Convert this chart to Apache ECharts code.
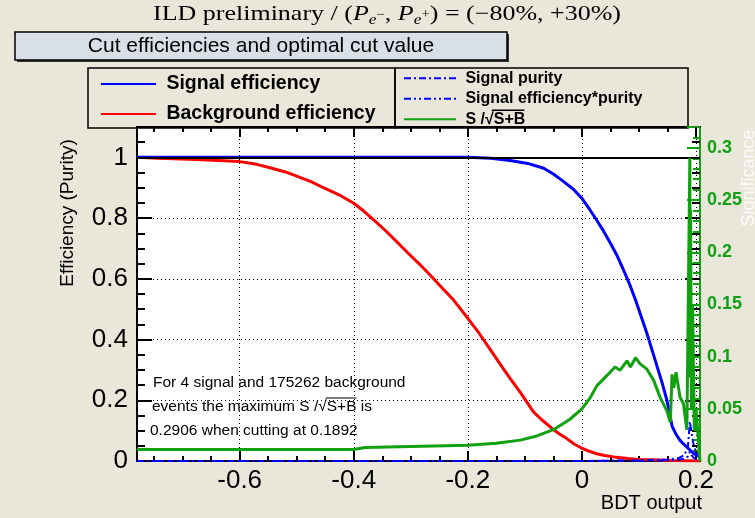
<!DOCTYPE html>
<html><head><meta charset="utf-8">
<script src="https://cdn.jsdelivr.net/npm/echarts@6/dist/echarts.min.js"></script>
<style>html,body{margin:0;padding:0;background:#e9e6da;}#c{width:755px;height:518px;}</style>
</head><body><div id="c"></div>
<script>
// ---- axis ranges / ticks ----
const X_MIN = -0.78, X_MAX = 0.207;
const xTicks = [-0.6, -0.4, -0.2, 0, 0.2];
const xMinorTicks = [-0.75,-0.7,-0.65,-0.6,-0.55,-0.5,-0.45,-0.4,-0.35,-0.3,-0.25,-0.2,-0.15,-0.1,-0.05,0,0.05,0.1,0.15,0.2];
const effMax = 1.1;
const sigMax = 0.32;

// ---- background efficiency (red) ----
const bkgX   = [-0.78,-0.743,-0.676,-0.6,-0.57,-0.547,-0.52,-0.5,-0.475,-0.453,-0.425,-0.4,-0.383,-0.366,-0.345,-0.325,-0.305,-0.284,-0.265,-0.245,-0.225,-0.2,-0.18,-0.16,-0.14,-0.125,-0.108,-0.095,-0.085,-0.07,-0.053,-0.04,-0.026,-0.013,0,0.013,0.026,0.04,0.06,0.08,0.1,0.12,0.16,0.207];
const bkgEff = [1.0,0.997,0.993,0.986,0.977,0.966,0.952,0.938,0.92,0.9,0.876,0.849,0.824,0.796,0.76,0.723,0.685,0.647,0.61,0.57,0.53,0.47,0.42,0.365,0.31,0.27,0.226,0.19,0.162,0.135,0.108,0.09,0.073,0.055,0.042,0.032,0.024,0.018,0.012,0.008,0.005,0.004,0.002,0.0];

// ---- signal efficiency (blue) ----
const sigX   = [-0.78,-0.2,-0.16,-0.126,-0.095,-0.067,-0.05,-0.032,-0.015,0,0.013,0.026,0.038,0.05,0.062,0.073,0.084,0.094,0.104,0.114,0.123,0.132,0.141,0.149,0.154,0.158,0.165,0.172,0.178,0.184,0.19,0.196,0.202,0.207];
const sigEff = [1,1,0.997,0.99,0.98,0.964,0.945,0.92,0.895,0.865,0.83,0.793,0.757,0.717,0.675,0.629,0.58,0.53,0.475,0.42,0.365,0.31,0.255,0.2,0.155,0.115,0.088,0.068,0.056,0.046,0.035,0.025,0.018,0.013];

// ---- significance S/sqrt(S+B) (green, right axis) ----
const signifX = [-0.78,-0.4,-0.38,-0.3,-0.2,-0.15,-0.108,-0.079,-0.05,-0.021,0,0.015,0.026,0.044,0.058,0.067,0.079,0.085,0.094,0.102,0.114,0.126,0.137,0.149,0.155,0.158,0.161,0.165,0.172,0.178,0.184,0.1892,0.1898,0.1905,0.192,0.194,0.197,0.2,0.207];
const signif  = [0.011,0.011,0.013,0.014,0.015,0.017,0.020,0.024,0.030,0.040,0.050,0.061,0.072,0.082,0.090,0.087,0.096,0.090,0.099,0.093,0.088,0.077,0.061,0.048,0.037,0.083,0.070,0.085,0.061,0.055,0.030,0.2906,0.08,0.24,0.05,0.15,0.03,0.05,0.0];

// ---- purity curves (blue dash-dot) ----
const purX      = [-0.78,0,0.1,0.15,0.17,0.18,0.186,0.1892,0.195,0.2,0.207];
const purity    = [0,0.0002,0.002,0.005,0.01,0.02,0.05,0.13,0.06,0.03,0.02];
const effPurity = [0,0.0002,0.001,0.002,0.004,0.008,0.015,0.03,0.012,0.006,0.003];

const FONT = 'Liberation Sans, Arial, Helvetica, sans-serif';
const SERIF = 'Liberation Serif, DejaVu Serif, serif';
const GREEN = '#10a010';
const zip = (a, b) => a.map((v, i) => [v, b[i]]);

const cnv = document.createElement('canvas').getContext('2d');
function tw(txt, font) { cnv.font = font; return cnv.measureText(txt).width; }

const chart = echarts.init(document.getElementById('c'), null, {renderer: 'canvas'});

function xAxisDef(pos, major) {
  return {
    type: 'value', min: X_MIN, max: X_MAX, position: pos,
    axisLine: {show: major, onZero: false, lineStyle: {color: '#000', width: 2}},
    axisTick: {show: true, inside: true, length: major ? 10 : 5, customValues: major ? xTicks : xMinorTicks,
               lineStyle: {color: '#000', width: 2}},
    axisLabel: (major && pos === 'bottom') ? {show: true, customValues: xTicks, fontSize: 26, fontFamily: FONT, color: '#000', margin: 7,
               formatter: v => String(Math.round(v * 10) / 10)} : {show: false},
    splitLine: (major && pos === 'bottom') ? {show: true, lineStyle: {color: '#000', type: [1, 3], width: 1}} : {show: false}
  };
}

const option = {
  backgroundColor: '#e9e6da',
  animation: false,
  grid: {left: 137, right: 55, top: 127, bottom: 57, show: true, backgroundColor: '#fff', borderColor: '#000', borderWidth: 1},
  xAxis: [xAxisDef('bottom', true), xAxisDef('bottom', false), xAxisDef('top', true), xAxisDef('top', false)],
  yAxis: [
    {type: 'value', min: 0, max: effMax, interval: 0.2, position: 'left',
     axisLine: {show: true, onZero: false, lineStyle: {color: '#000', width: 2}},
     axisTick: {inside: true, length: 15, lineStyle: {color: '#000', width: 2}},
     minorTick: {show: true, splitNumber: 4, length: 8, lineStyle: {color: '#000', width: 2}},
     axisLabel: {fontSize: 26, fontFamily: FONT, color: '#000', margin: 9, showMaxLabel: false,
                 formatter: v => String(Math.round(v * 10) / 10)},
     splitLine: {show: true, lineStyle: {color: '#000', type: [1, 3], width: 1}}},
    {type: 'value', min: 0, max: effMax, interval: 0.2, position: 'right',
     axisLine: {show: false, onZero: false},
     axisTick: {inside: true, length: 15, lineStyle: {color: '#000', width: 2}},
     minorTick: {show: true, splitNumber: 4, length: 8, lineStyle: {color: '#000', width: 2}},
     axisLabel: {show: false}, splitLine: {show: false}},
    {type: 'value', min: 0, max: sigMax, interval: 0.05, position: 'right',
     axisLine: {show: true, onZero: false, lineStyle: {color: GREEN, width: 2}},
     axisTick: {inside: true, length: 13, lineStyle: {color: GREEN, width: 2}},
     minorTick: {show: true, splitNumber: 5, length: 7, lineStyle: {color: GREEN, width: 2}},
     axisLabel: {fontSize: 18, fontWeight: 'bold', fontFamily: FONT, color: GREEN, margin: 7, showMaxLabel: false,
                 formatter: v => String(Math.round(v * 100) / 100)},
     splitLine: {show: false}}
  ],
  legend: [
    {data: ['Signal efficiency', 'Background efficiency'], orient: 'vertical', left: 100, top: 74,
     itemWidth: 55, itemHeight: 14, itemGap: 10, padding: 0, selectedMode: false,
     itemStyle: {opacity: 0},
     formatter: n => ' ' + n,
     textStyle: {fontSize: 19.5, fontWeight: 'bold', fontFamily: FONT, color: '#000', lineHeight: 20}},
    {data: ['Signal purity', 'Signal efficiency*purity', 'S /√S+B'], orient: 'vertical', left: 403, top: 70,
     itemWidth: 52, itemHeight: 12, itemGap: 4, padding: 0, selectedMode: false,
     itemStyle: {opacity: 0},
     formatter: n => ' ' + n,
     textStyle: {fontSize: 16, fontWeight: 'bold', fontFamily: FONT, color: '#000', lineHeight: 16.5}}
  ],
  series: [
    {name: 'Background efficiency', type: 'line', xAxisIndex: 0, yAxisIndex: 0, data: zip(bkgX, bkgEff),
     symbol: 'none', color: '#ff0000', lineStyle: {width: 3, color: '#ff0000'}, z: 3,
     markLine: {silent: true, symbol: 'none', label: {show: false}, lineStyle: {color: '#000', width: 2, type: 'solid'},
                data: [{yAxis: 1}]}},
    {name: 'Signal efficiency', type: 'line', xAxisIndex: 0, yAxisIndex: 0, data: zip(sigX, sigEff),
     symbol: 'none', color: '#0000ff', lineStyle: {width: 3, color: '#0000ff'}, z: 4},
    {name: 'Signal purity', type: 'line', xAxisIndex: 0, yAxisIndex: 0, data: zip(purX, purity),
     symbol: 'none', color: '#0000ff', lineStyle: {width: 2, color: '#0000ff', type: [7, 3, 2, 3]}, z: 4},
    {name: 'Signal efficiency*purity', type: 'line', xAxisIndex: 0, yAxisIndex: 0, data: zip(purX, effPurity),
     symbol: 'none', color: '#0000ff', lineStyle: {width: 2, color: '#0000ff', type: [7, 3, 2, 3, 2, 3]}, z: 4},
    {name: 'S /√S+B', type: 'line', xAxisIndex: 0, yAxisIndex: 2, data: zip(signifX, signif),
     symbol: 'none', color: GREEN, lineStyle: {width: 3, color: GREEN}, z: 5}
  ]
};

// ---- top title built from pieces (sub/superscripts) ----
const T = 21;
const pieces = [
  ['ILD preliminary / (', `${T}px ${SERIF}`, 0],
  ['P', `italic ${T}px ${SERIF}`, 0],
  ['e', `italic ${Math.round(T*0.65)}px ${SERIF}`, 6],
  ['−', `${Math.round(T*0.55)}px ${SERIF}`, 1],
  [', ', `${T}px ${SERIF}`, 0],
  ['P', `italic ${T}px ${SERIF}`, 0],
  ['e', `italic ${Math.round(T*0.65)}px ${SERIF}`, 6],
  ['+', `${Math.round(T*0.55)}px ${SERIF}`, 1],
  [') = (−80%, +30%)', `${T}px ${SERIF}`, 0]
];
let px = 0;
const titleChildren = pieces.map(p => {
  const el = {type: 'text', x: px, y: p[2], style: {text: p[0], font: p[1], fill: '#000', verticalAlign: 'middle'}};
  px += tw(p[0], p[1]);
  return el;
});
const titleW = 468;
const titleScale = titleW / px;

// ---- decorations ----
const lg2Font = 'bold 16px ' + FONT;
const lg2TextX = 403 + 52 + 5;
const lg2Y = 70 + 2 * (16.5 + 4) + 8.25;
const ol1x0 = lg2TextX + tw(' S /√', lg2Font) - 1;
const ol1x1 = lg2TextX + tw(' S /√S+B', lg2Font);
const boxFont = '15.5px ' + FONT;
const ol2x0 = 152 + tw('events the maximum S /√', boxFont) - 1;
const ol2x1 = 152 + tw('events the maximum S /√S+B', boxFont);

option.graphic = [
  {type: 'group', x: 153, y: 14, scaleX: titleScale, z: 10, children: titleChildren},
  {type: 'rect', shape: {x: 17, y: 34, width: 492, height: 28}, style: {fill: '#333'}, z: 9},
  {type: 'rect', shape: {x: 15, y: 32, width: 492, height: 28}, style: {fill: '#d9dfe7', stroke: '#000', lineWidth: 1.5}, z: 10},
  {type: 'text', x: 261, y: 46, z: 11,
   style: {text: 'Cut efficiencies and optimal cut value', font: '21px ' + FONT, fill: '#000', align: 'center', verticalAlign: 'middle'}},
  {type: 'rect', shape: {x: 88, y: 68, width: 307, height: 60}, style: {fill: 'rgba(0,0,0,0)', stroke: '#000', lineWidth: 1.5}, z: 0},
  {type: 'rect', shape: {x: 395, y: 68, width: 293, height: 60}, style: {fill: 'rgba(0,0,0,0)', stroke: '#000', lineWidth: 1.5}, z: 0},
  {type: 'line', shape: {x1: ol1x0, y1: lg2Y - 9, x2: ol1x1, y2: lg2Y - 9}, style: {stroke: '#000', lineWidth: 1.5}, z: 11},
  {type: 'text', x: 68, y: 213, rotation: Math.PI / 2, z: 10,
   style: {text: 'Efficiency (Purity)', font: '19px ' + FONT, fill: '#000', align: 'center', verticalAlign: 'middle'}},
  {type: 'text', x: 702, y: 503, z: 10,
   style: {text: 'BDT output', font: '20px ' + FONT, fill: '#000', align: 'right', verticalAlign: 'middle'}},
  {type: 'text', x: 749, y: 178, rotation: Math.PI / 2, z: 10,
   style: {text: 'Significance', font: '18px ' + FONT, fill: '#ffffff', opacity: 0.85, align: 'center', verticalAlign: 'middle'}},
  {type: 'text', x: 153, y: 383, z: 10, style: {text: 'For 4 signal and 175262 background', font: boxFont, fill: '#000', verticalAlign: 'middle'}},
  {type: 'text', x: 152, y: 407, z: 10, style: {text: 'events the maximum S /√S+B is', font: boxFont, fill: '#000', verticalAlign: 'middle'}},
  {type: 'line', shape: {x1: ol2x0, y1: 398, x2: ol2x1, y2: 398}, style: {stroke: '#000', lineWidth: 1}, z: 11},
  {type: 'text', x: 150, y: 431, z: 10, style: {text: '0.2906 when cutting at 0.1892', font: boxFont, fill: '#000', verticalAlign: 'middle'}}
];

chart.setOption(option);
</script>
</body></html>
